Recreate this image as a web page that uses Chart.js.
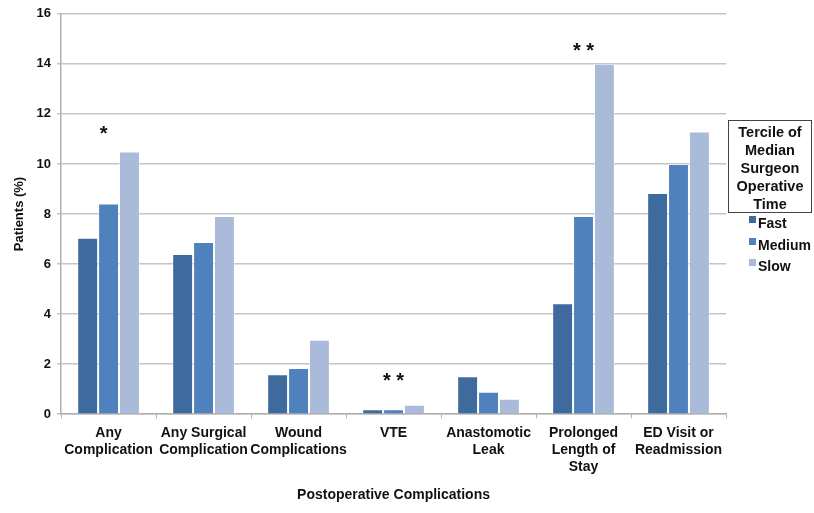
<!DOCTYPE html>
<html>
<head>
<meta charset="utf-8">
<script src="https://cdn.jsdelivr.net/npm/chart.js@4.4.1/dist/chart.umd.min.js"></script>
<style>
  body { margin: 0; background: #fff; }
  #wrap { position: relative; width: 814px; height: 513px; }
  #legend-box {
    position: absolute; left: 728px; top: 120px; width: 84px; height: 93px;
    border: 1.5px solid #444; box-sizing: border-box;
    font: bold 14.5px "Liberation Sans", Arial, sans-serif; color: #111;
    text-align: center; line-height: 18px; padding-top: 2px;
  }
  #legend-items {
    position: absolute; left: 749px; top: 213px;
    font: bold 14px "Liberation Sans", Arial, sans-serif; color: #111;
  }
  .item { height: 21.5px; line-height: 21.5px; white-space: nowrap; }
  .sw { display: inline-block; width: 7px; height: 7px; margin-right: 2px; vertical-align: 5px; }
</style>
</head>
<body>
<div id="wrap">
  <canvas id="chart" width="814" height="513"></canvas>
  <div id="legend-box">Tercile of<br>Median<br>Surgeon<br>Operative<br>Time</div>
  <div id="legend-items"></div>
</div>
<script>
const categories = [
    ['Any', 'Complication'],
    ['Any Surgical', 'Complication'],
    ['Wound', 'Complications'],
    'VTE',
    ['Anastomotic', 'Leak'],
    ['Prolonged', 'Length of', 'Stay'],
    ['ED Visit or', 'Readmission']
];
const fastValues = [7.05, 6.4, 1.6, 0.2, 1.52, 4.43, 8.84];
const mediumValues = [8.42, 6.88, 1.85, 0.2, 0.9, 7.92, 10.0];
const slowValues = [10.5, 7.92, 2.98, 0.38, 0.62, 14.0, 11.3];
const seriesNames = ['Fast', 'Medium', 'Slow'];
const seriesColors = ['#3F6A9D', '#4F81BD', '#AABBD9'];
// significance markers and the value (in %) where they sit
const sigMarks = ['*', '', '', '* *', '', '* *', ''];
const sigLevels = [11.35, null, null, 1.45, null, 14.65, null];

const font = '"Liberation Sans", Arial, sans-serif';

// draw the asterisks above the groups
const sigPlugin = {
    id: 'sig',
    afterDatasetsDraw(chart) {
        const ctx = chart.ctx;
        const x = chart.scales.x, y = chart.scales.y;
        ctx.save();
        ctx.fillStyle = '#111';
        ctx.font = 'bold 20px "Liberation Sans", Arial, sans-serif';
        ctx.textAlign = 'center';
        ctx.textBaseline = 'middle';
        sigMarks.forEach((m, i) => {
            if (!m) return;
            ctx.fillText(m, x.getPixelForValue(i) - (i === 0 ? 5 : 0), y.getPixelForValue(sigLevels[i]) + 4);
        });
        ctx.restore();
    }
};

const datasets = [fastValues, mediumValues, slowValues].map((vals, i) => ({
    label: seriesNames[i],
    data: vals,
    backgroundColor: seriesColors[i],
    borderColor: 'rgba(255,255,255,0.45)',
    borderWidth: 1,
    categoryPercentage: 0.66,
    barPercentage: 1.0
}));

new Chart(document.getElementById('chart'), {
    type: 'bar',
    data: { labels: categories, datasets: datasets },
    options: {
        responsive: false,
        animation: false,
        layout: { padding: { top: 6, right: 88, left: 8, bottom: 5 } },
        plugins: { legend: { display: false }, tooltip: { enabled: false } },
        scales: {
            x: {
                grid: { display: true, drawOnChartArea: false, offset: true, tickLength: 4, color: '#b0b0b0', lineWidth: 1 },
                border: { color: '#b0b0b0', width: 1.5 },
                ticks: { color: '#111', font: { family: font, size: 14, weight: 'bold', lineHeight: 1.214 }, maxRotation: 0, autoSkip: false, padding: 6 },
                title: { display: true, text: 'Postoperative Complications', color: '#111', font: { family: font, size: 14, weight: 'bold' }, padding: { top: 6, bottom: 4 } }
            },
            y: {
                min: 0, max: 16,
                ticks: { stepSize: 2, color: '#111', font: { family: font, size: 13, weight: 'bold' }, padding: 6 },
                grid: { color: '#c4c4c4', lineWidth: 1.5, tickLength: 4 },
                border: { color: '#b0b0b0', width: 1.5 },
                title: { display: true, text: 'Patients (%)', color: '#111', font: { family: font, size: 13, weight: 'bold' }, padding: { top: 4, bottom: 3 } }
            }
        }
    },
    plugins: [sigPlugin]
});

// legend items built from the series
const legendItems = document.getElementById('legend-items');
seriesNames.forEach((name, i) => {
    const row = document.createElement('div');
    row.className = 'item';
    row.innerHTML = '<span class="sw" style="background:' + seriesColors[i] + '"></span>' + name;
    legendItems.appendChild(row);
});
</script>
</body>
</html>
